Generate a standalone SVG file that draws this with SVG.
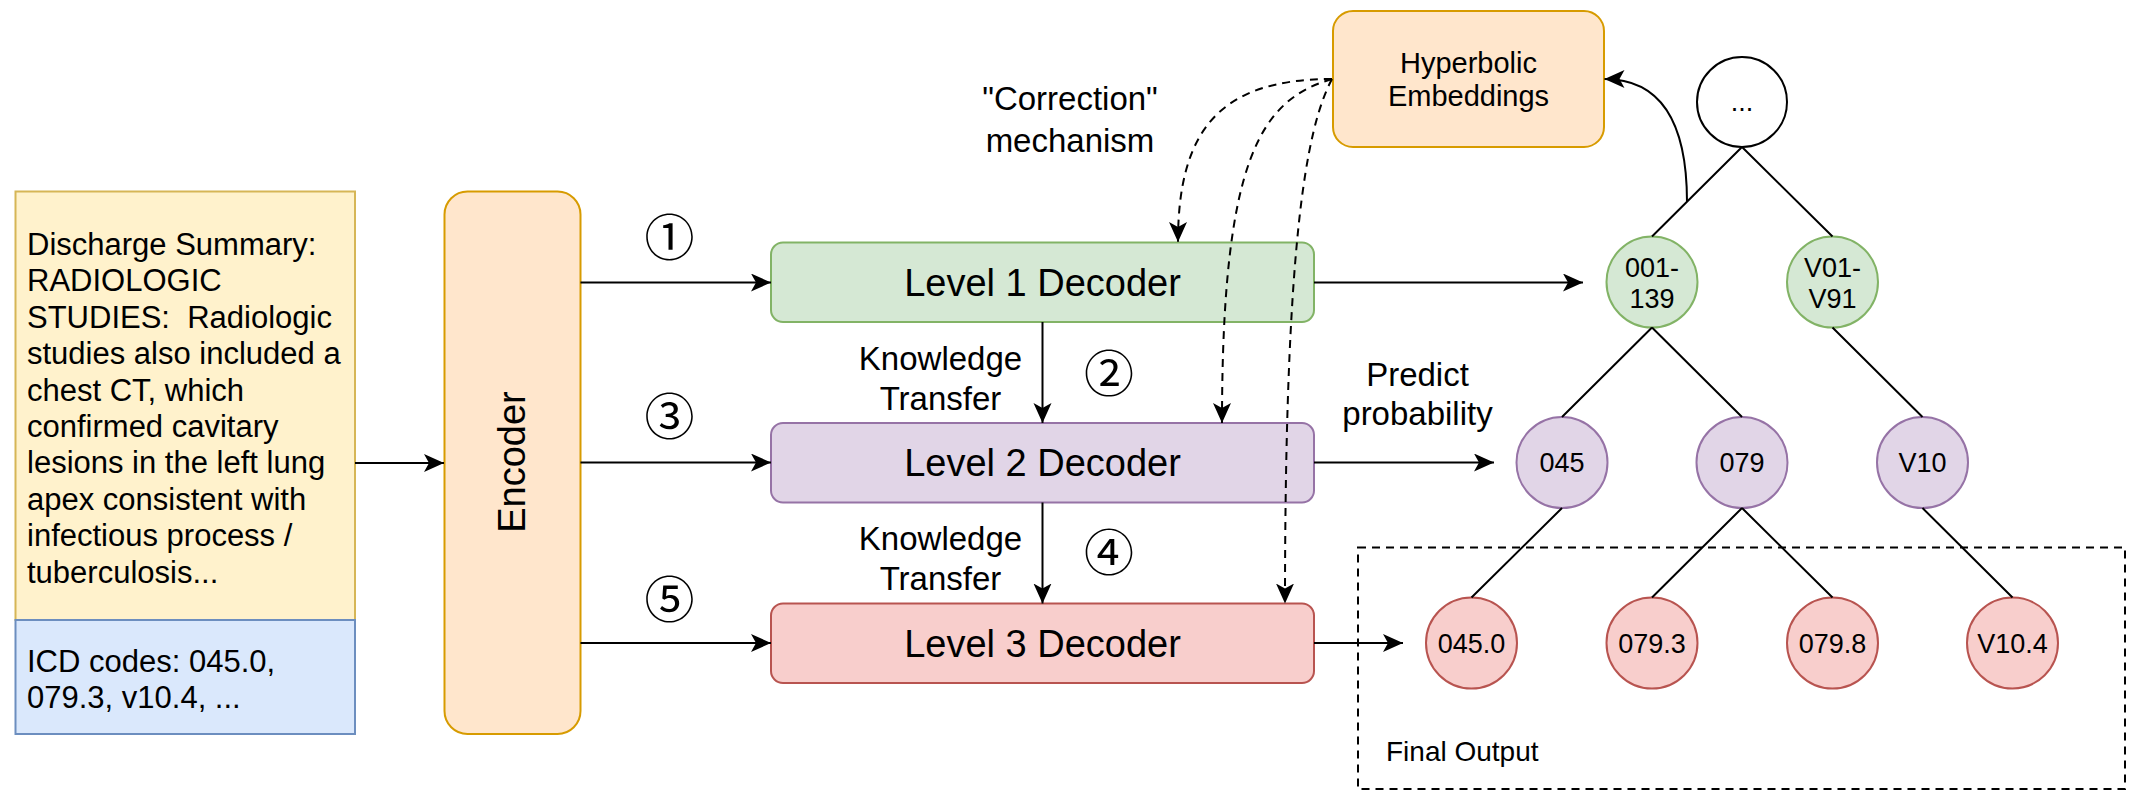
<svg xmlns="http://www.w3.org/2000/svg" width="2140" height="802" viewBox="0 0 2140 802">
<style>
text{font-family:"Liberation Sans",Arial,sans-serif;fill:#000}
.lbl{font-size:33px;text-anchor:middle}
.dec{font-size:38px;text-anchor:middle}
.node{font-size:27px;text-anchor:middle}
.num{font-family:"Noto Sans CJK JP","DejaVu Sans",sans-serif;font-size:50px;text-anchor:middle}
.ln{fill:none;stroke:#000;stroke-width:2}
.dash{fill:none;stroke:#000;stroke-width:2;stroke-dasharray:8 6}
.g{fill:#d5e8d4;stroke:#82b366;stroke-width:2}
.p{fill:#e1d5e7;stroke:#9673a6;stroke-width:2}
.r{fill:#f8cecc;stroke:#b85450;stroke-width:2}
.o{fill:#ffe6cc;stroke:#d79b00;stroke-width:2}
</style>
<defs>
<marker id="arr" markerUnits="userSpaceOnUse" markerWidth="22" markerHeight="20" refX="20" refY="9" orient="auto" viewBox="0 0 22 20">
<path d="M0,0 L20,9 L0,18 L5,9 Z" fill="#000"/>
</marker>
</defs>

<g id="input-text">
<rect x="15.5" y="191.5" width="339.5" height="428.5" fill="#fff2cc" stroke="#d6b656" stroke-width="2"/>
<text x="27" y="255" style="font-size:31px;white-space:pre"><tspan x="27" y="255">Discharge Summary:</tspan><tspan x="27" y="291.4">RADIOLOGIC</tspan><tspan x="27" y="327.8">STUDIES:  Radiologic</tspan><tspan x="27" y="364.2">studies also included a</tspan><tspan x="27" y="400.6">chest CT, which</tspan><tspan x="27" y="437">confirmed cavitary</tspan><tspan x="27" y="473.4">lesions in the left lung</tspan><tspan x="27" y="509.8">apex consistent with</tspan><tspan x="27" y="546.2">infectious process /</tspan><tspan x="27" y="582.6">tuberculosis...</tspan></text>
</g>
<g id="icd-codes">
<rect x="15.5" y="620" width="339.5" height="114" fill="#dae8fc" stroke="#6c8ebf" stroke-width="2"/>
<text style="font-size:31px"><tspan x="27" y="672">ICD codes: 045.0,</tspan><tspan x="27" y="707.5">079.3, v10.4, ...</tspan></text>
</g>
<g id="encoder">
<rect class="o" x="444.5" y="191.5" width="136" height="542.5" rx="23"/>
<text class="dec" transform="translate(525,462) rotate(-90)" x="0" y="0">Encoder</text>
</g>
<g id="level1-decoder">
<rect class="g" x="771" y="242.5" width="543" height="79.5" rx="12"/>
<text class="dec" x="1042.5" y="295.5">Level 1 Decoder</text>
</g>
<g id="level2-decoder">
<rect class="p" x="771" y="423" width="543" height="79.5" rx="12"/>
<text class="dec" x="1042.5" y="476">Level 2 Decoder</text>
</g>
<g id="level3-decoder">
<rect class="r" x="771" y="603.5" width="543" height="79.5" rx="12"/>
<text class="dec" x="1042.5" y="656.5">Level 3 Decoder</text>
</g>
<g id="hyperbolic-embeddings">
<rect class="o" x="1333" y="11" width="271" height="136" rx="20"/>
<text x="1468.5" y="72.5" style="font-size:29px;text-anchor:middle">Hyperbolic</text>
<text x="1468.5" y="106" style="font-size:29px;text-anchor:middle">Embeddings</text>
</g>

<g id="tree-root">
<circle cx="1742" cy="102" r="45" fill="#fff" stroke="#000" stroke-width="2"/>
<text class="node" x="1742" y="111">...</text>
</g>
<g id="node-001-139">
<circle class="g" cx="1652" cy="282" r="45.5"/>
<text class="node"><tspan x="1652" y="277">001-</tspan><tspan x="1652" y="307.5">139</tspan></text>
</g>
<g id="node-V01-V91">
<circle class="g" cx="1832.5" cy="282" r="45.5"/>
<text class="node"><tspan x="1832.5" y="277">V01-</tspan><tspan x="1832.5" y="307.5">V91</tspan></text>
</g>
<g id="node-045">
<circle class="p" cx="1562" cy="462.5" r="45.5"/>
<text class="node" x="1562" y="472">045</text>
</g>
<g id="node-079">
<circle class="p" cx="1742" cy="462.5" r="45.5"/>
<text class="node" x="1742" y="472">079</text>
</g>
<g id="node-V10">
<circle class="p" cx="1922.5" cy="462.5" r="45.5"/>
<text class="node" x="1922.5" y="472">V10</text>
</g>
<g id="node-045.0">
<circle class="r" cx="1471.5" cy="643" r="45.5"/>
<text class="node" x="1471.5" y="652.5">045.0</text>
</g>
<g id="node-079.3">
<circle class="r" cx="1652" cy="643" r="45.5"/>
<text class="node" x="1652" y="652.5">079.3</text>
</g>
<g id="node-079.8">
<circle class="r" cx="1832.5" cy="643" r="45.5"/>
<text class="node" x="1832.5" y="652.5">079.8</text>
</g>
<g id="node-V10.4">
<circle class="r" cx="2012.5" cy="643" r="45.5"/>
<text class="node" x="2012.5" y="652.5">V10.4</text>
</g>

<g id="final-output">
<rect class="dash" x="1358" y="547.5" width="767" height="241.5"/>
<text x="1386" y="760.5" style="font-size:28px">Final Output</text>
</g>

<g id="connectors">
<path class="ln" d="M355,463 L444,463" marker-end="url(#arr)"/>
<path class="ln" d="M580.5,282.5 L771,282.5" marker-end="url(#arr)"/>
<path class="ln" d="M580.5,462.5 L771,462.5" marker-end="url(#arr)"/>
<path class="ln" d="M580.5,643 L771,643" marker-end="url(#arr)"/>
<path class="ln" d="M1042.5,322 L1042.5,423" marker-end="url(#arr)"/>
<path class="ln" d="M1042.5,502.5 L1042.5,603.5" marker-end="url(#arr)"/>
<path class="ln" d="M1314,282.5 L1583,282.5" marker-end="url(#arr)"/>
<path class="ln" d="M1314,462.5 L1494,462.5" marker-end="url(#arr)"/>
<path class="ln" d="M1314,643 L1403,643" marker-end="url(#arr)"/>
<path class="dash" d="M1332,79 C1220,79 1178,130 1178,242" marker-end="url(#arr)"/>
<path class="dash" d="M1332,79 C1260,100 1222,160 1222,423" marker-end="url(#arr)"/>
<path class="dash" d="M1332,79 C1305,130 1285,250 1285,603.5" marker-end="url(#arr)"/>
<path class="ln" d="M1687,202 C1687,120 1660,79 1604.5,79" marker-end="url(#arr)"/>
<path class="ln" d="M1742,147 L1652,236.5 M1742,147 L1832.5,236.5 M1652,327.5 L1562,417 M1652,327.5 L1742,417 M1832.5,327.5 L1922.5,417 M1562,508 L1471.5,597.5 M1742,508 L1652,597.5 M1742,508 L1832.5,597.5 M1922.5,508 L2012.5,597.5" stroke-width="1.8"/>
</g>

<g id="labels">
<text class="lbl" x="1070" y="109.5">"Correction"</text>
<text class="lbl" x="1070" y="151.5">mechanism</text>
<text class="lbl" x="940.5" y="370">Knowledge</text>
<text class="lbl" x="940.5" y="410">Transfer</text>
<text class="lbl" x="940.5" y="550">Knowledge</text>
<text class="lbl" x="940.5" y="590">Transfer</text>
<text class="lbl" x="1417.5" y="386">Predict</text>
<text class="lbl" x="1417.5" y="425">probability</text>
<text class="num" x="669.5" y="255.5">①</text>
<text class="num" x="1109" y="392">②</text>
<text class="num" x="669.5" y="434.5">③</text>
<text class="num" x="1109" y="571">④</text>
<text class="num" x="669.5" y="617.5">⑤</text>
</g>
</svg>
